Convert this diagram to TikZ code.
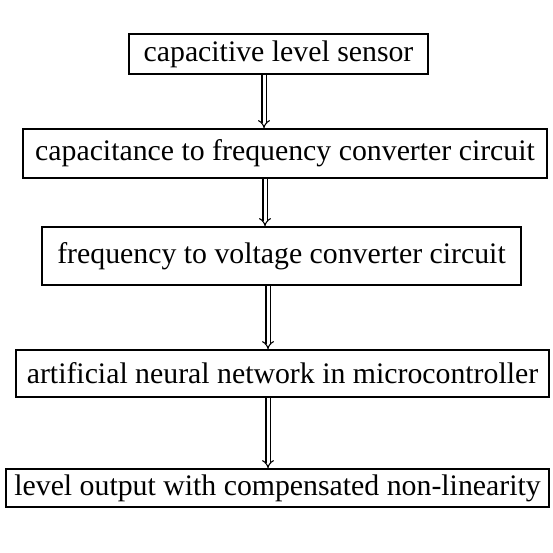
\documentclass[tikz,border=0pt]{standalone}
\usepackage{fontspec}
\setmainfont{Liberation Serif}
\usetikzlibrary{arrows.meta}
\tikzset{
  blk/.style={draw, line width=1.6pt, rectangle, inner sep=0pt, font=\fontsize{29.8}{34}\selectfont},
  dbl/.style={double, double distance=3pt, line width=1.1pt, -{Implies}, shorten >=0pt}
}
\begin{document}
\begin{tikzpicture}[x=1pt,y=-1pt]
\useasboundingbox (0,0) rectangle (553,553);
\node[blk, minimum width=299pt, minimum height=40pt] (b1) at (278.5,54) {capacitive level sensor};
\node[blk, minimum width=524pt, minimum height=49pt] (b2) at (285,153.5) {capacitance to frequency converter circuit};
\node[blk, minimum width=479pt, minimum height=58pt] (b3) at (281.5,256) {frequency to voltage converter circuit};
\node[blk, minimum width=533pt, minimum height=47pt] (b4) at (282.5,373.5) {artificial neural network in microcontroller};
\node[blk, minimum width=543pt, minimum height=38pt] (b5) at (277.5,488) {level output with compensated non-linearity};
\draw[dbl] ([xshift=-14.5pt]b1.south) -- ([xshift=-21pt]b2.north);
\draw[dbl] ([xshift=-20pt]b2.south) -- ([xshift=-16.5pt]b3.north);
\draw[dbl] ([xshift=-13.5pt]b3.south) -- ([xshift=-14.5pt]b4.north);
\draw[dbl] ([xshift=-14.5pt]b4.south) -- ([xshift=-9.5pt]b5.north);
\end{tikzpicture}
\end{document}
